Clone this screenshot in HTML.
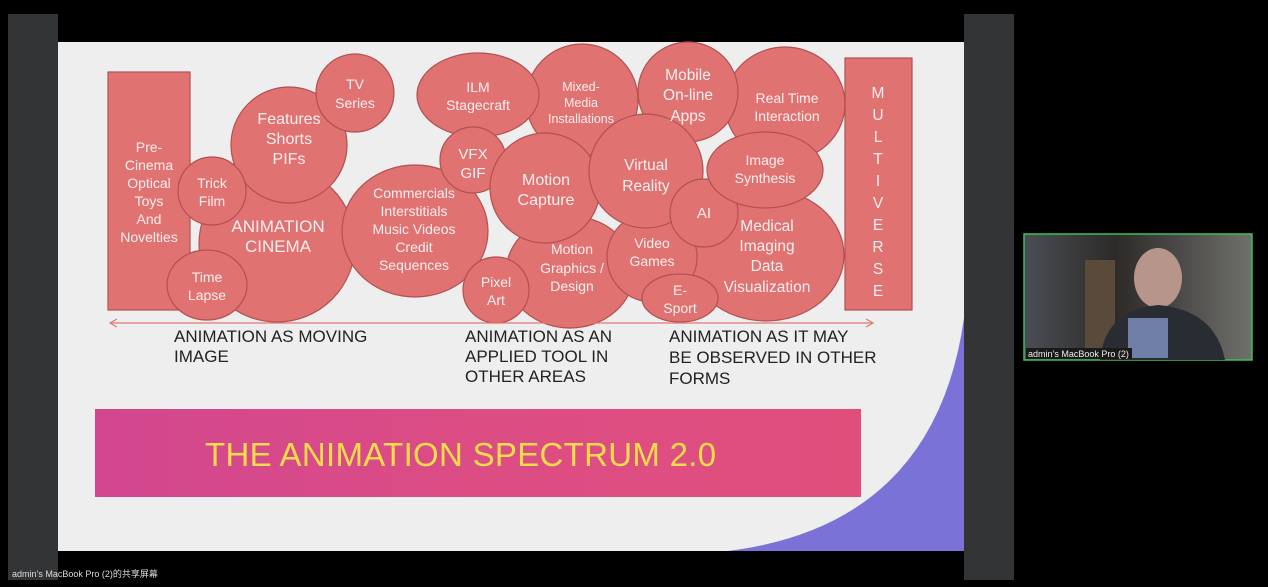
<!DOCTYPE html>
<html><head><meta charset="utf-8"><style>
html,body{margin:0;padding:0;background:#000;width:1268px;height:587px;overflow:hidden}
svg{display:block}
text{font-family:"Liberation Sans",sans-serif}
</style></head><body>
<svg width="1268" height="587" viewBox="0 0 1268 587" xmlns="http://www.w3.org/2000/svg">
<defs>
<linearGradient id="ban" x1="0" x2="1" y1="0" y2="0"><stop offset="0" stop-color="#d2468f"/><stop offset="0.5" stop-color="#dc4d84"/><stop offset="1" stop-color="#e04e7c"/></linearGradient>
<linearGradient id="cam" x1="0" x2="1"><stop offset="0" stop-color="#4a4f55"/><stop offset="0.4" stop-color="#2d2a28"/><stop offset="1" stop-color="#6f6f6c"/></linearGradient>
</defs>
<rect width="1268" height="587" fill="#000"/>
<rect x="8" y="14" width="50" height="566" fill="#323436"/>
<rect x="964" y="14" width="50" height="566" fill="#323436"/>
<rect x="58" y="42" width="906" height="509" fill="#efeeee"/>
<path d="M964,318 Q935,525 728,551 L964,551 Z" fill="#7b72d8"/>
<g fill="#e07272" stroke="#b35050" stroke-width="1.2">
<rect x="108" y="72" width="82" height="238"/>
<rect x="845" y="58" width="67" height="252"/>
<circle cx="277" cy="244" r="78"/>
<circle cx="289" cy="145" r="58"/>
<circle cx="355" cy="93" r="39"/>
<circle cx="212" cy="191" r="34"/>
<ellipse cx="207" cy="285" rx="40" ry="35"/>
<ellipse cx="415" cy="231" rx="73" ry="66"/>
<circle cx="582" cy="100" r="56"/>
<ellipse cx="785" cy="104" rx="60" ry="57"/>
<circle cx="688" cy="92" r="50"/>
<ellipse cx="478" cy="95" rx="61" ry="42"/>
<circle cx="473" cy="160" r="33"/>
<ellipse cx="570" cy="272" rx="64" ry="56"/>
<ellipse cx="766" cy="255" rx="78" ry="66"/>
<circle cx="652" cy="257" r="45"/>
<circle cx="545" cy="188" r="55"/>
<circle cx="646" cy="171" r="57"/>
<circle cx="704" cy="213" r="34"/>
<ellipse cx="765" cy="170" rx="58" ry="38"/>
<circle cx="496" cy="290" r="33"/>
<ellipse cx="680" cy="298" rx="38" ry="24"/>
</g>
<g fill="#fbeeee" text-anchor="middle" font-size="14">
<text x="149" y="152">Pre-</text><text x="149" y="170">Cinema</text><text x="149" y="188">Optical</text><text x="149" y="206">Toys</text><text x="149" y="224">And</text><text x="149" y="242">Novelties</text>
<text x="212" y="188">Trick</text><text x="212" y="206">Film</text>
<text x="207" y="282">Time</text><text x="207" y="300">Lapse</text>
<text x="278" y="232" font-size="17">ANIMATION</text><text x="278" y="252" font-size="17">CINEMA</text>
<text x="289" y="124" font-size="16">Features</text><text x="289" y="144" font-size="16">Shorts</text><text x="289" y="164" font-size="16">PIFs</text>
<text x="355" y="89">TV</text><text x="355" y="108">Series</text>
<text x="414" y="198">Commercials</text><text x="414" y="216">Interstitials</text><text x="414" y="234">Music Videos</text><text x="414" y="252">Credit</text><text x="414" y="270">Sequences</text>
<text x="478" y="92">ILM</text><text x="478" y="110">Stagecraft</text>
<text x="473" y="159" font-size="15">VFX</text><text x="473" y="178" font-size="15">GIF</text>
<text x="496" y="287">Pixel</text><text x="496" y="305">Art</text>
<text x="581" y="91" font-size="12.5">Mixed-</text><text x="581" y="107" font-size="12.5">Media</text><text x="581" y="123" font-size="12.5">Installations</text>
<text x="688" y="80" font-size="15.5">Mobile</text><text x="688" y="100" font-size="15.5">On-line</text><text x="688" y="121" font-size="15.5">Apps</text>
<text x="787" y="103">Real Time</text><text x="787" y="121">Interaction</text>
<text x="546" y="185" font-size="16">Motion</text><text x="546" y="205" font-size="16">Capture</text>
<text x="646" y="170" font-size="15.5">Virtual</text><text x="646" y="191" font-size="15.5">Reality</text>
<text x="765" y="165">Image</text><text x="765" y="183">Synthesis</text>
<text x="704" y="218" font-size="15">AI</text>
<text x="767" y="231" font-size="15.5">Medical</text><text x="767" y="251" font-size="15.5">Imaging</text><text x="767" y="271" font-size="15.5">Data</text><text x="767" y="292" font-size="15.5">Visualization</text>
<text x="572" y="254">Motion</text><text x="572" y="273">Graphics /</text><text x="572" y="291">Design</text>
<text x="652" y="248">Video</text><text x="652" y="266">Games</text>
<text x="680" y="295">E-</text><text x="680" y="313">Sport</text>
<g font-size="15.5"><text x="878" y="98">M</text><text x="878" y="120">U</text><text x="878" y="142">L</text><text x="878" y="164">T</text><text x="878" y="186">I</text><text x="878" y="208">V</text><text x="878" y="230">E</text><text x="878" y="252">R</text><text x="878" y="274">S</text><text x="878" y="296">E</text></g>
</g>
<g stroke="#e07a72" stroke-width="1.2" fill="none">
<line x1="110" y1="323" x2="873" y2="323"/>
<polyline points="117,319 110,323 117,327"/><polyline points="866,319 873,323 866,327"/>
</g>
<g fill="#222" font-size="17">
<text x="174" y="342">ANIMATION AS MOVING</text><text x="174" y="362">IMAGE</text>
<text x="465" y="342">ANIMATION AS AN</text><text x="465" y="362">APPLIED TOOL IN</text><text x="465" y="382">OTHER AREAS</text>
<text x="669" y="342">ANIMATION AS IT MAY</text><text x="669" y="363">BE OBSERVED IN OTHER</text><text x="669" y="384">FORMS</text>
</g>
<rect x="95" y="409" width="766" height="88" fill="url(#ban)"/>
<text x="205" y="466" font-size="33" letter-spacing="0.3" fill="#f4dc4a">THE ANIMATION SPECTRUM 2.0</text>
<rect x="1024" y="234" width="228" height="126" fill="url(#cam)" stroke="#3fbf5a" stroke-width="1.5"/>
<rect x="1085" y="260" width="30" height="90" fill="#5a4a3a"/>
<ellipse cx="1158" cy="278" rx="24" ry="30" fill="#b8958a"/>
<path d="M1100,360 Q1105,310 1158,305 Q1215,310 1225,360 Z" fill="#2a2c33"/>
<rect x="1128" y="318" width="40" height="40" fill="#6f7fa8"/>
<rect x="1026" y="348" width="106" height="11" fill="#1a1a1a"/>
<text x="1028" y="357" font-size="9" fill="#eee">admin’s MacBook Pro (2)</text>
<text x="12" y="577" font-size="9" fill="#ddd" font-family="Liberation Sans, Noto Sans CJK SC, sans-serif">admin’s MacBook Pro (2)的共享屏幕</text>
</svg>
</body></html>
